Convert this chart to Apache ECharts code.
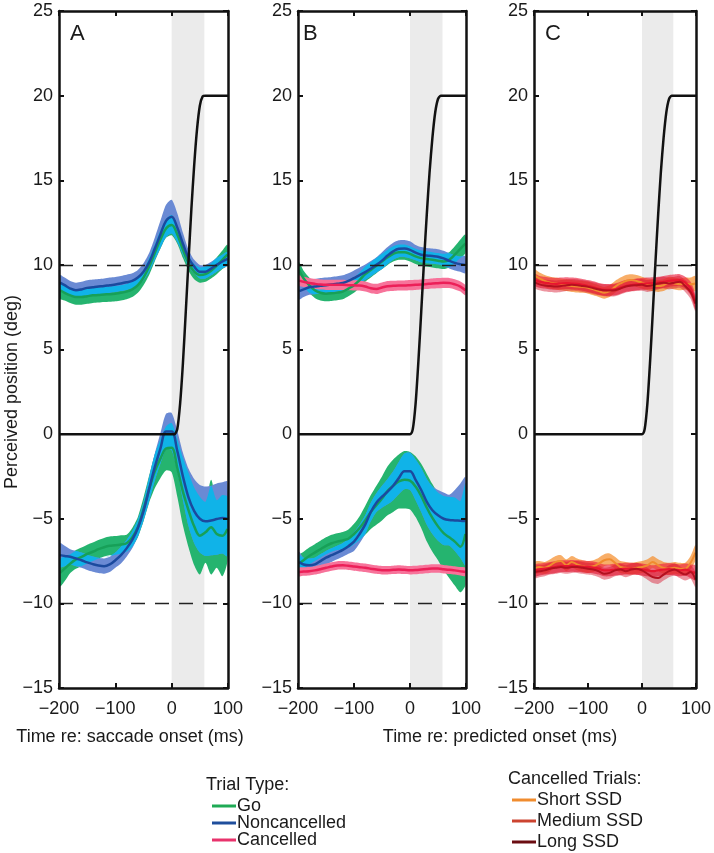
<!DOCTYPE html>
<html><head><meta charset="utf-8">
<script src="https://cdn.jsdelivr.net/npm/echarts@6/dist/echarts.min.js"></script>
<style>html,body{margin:0;padding:0;background:#fff}#c{width:714px;height:853px}</style>
</head><body><div id="c"></div>
<script>
// ---------- data ----------
const X = [-198,-190,-180,-170,-160,-150,-140,-130,-120,-110,-100,-90,-80,-70,-60,-50,-40,-30,-20,-10,0,10,20,30,40,50,60,70,80,90,99];
const xTicks = [-200,-100,0,100];
const yTicks = [-15,-10,-5,0,5,10,15,20,25];

// target position (black)
const targetX  = [-200,0,5,10,15,20,25,30,35,40,45,50,55,60,100];
const targetA  = [0,0,0,0.3,1.8,4.2,7.2,10.3,13.3,15.9,18,19.4,19.95,20,20];
const targetBC = [0,0,0.3,1.8,4.3,7.2,10.2,13,15.5,17.5,19,19.8,20,20,20];

// Panel A (re: saccade onset)
const goTopA     = [8.5,8.35,8.2,8.1,8.1,8.15,8.2,8.22,8.25,8.27,8.3,8.35,8.42,8.55,8.8,9.25,9.9,10.7,11.5,12.15,12.35,11.8,10.9,10.1,9.6,9.4,9.45,9.65,9.95,10.3,10.6];
const goTopErrA  = [0.5,0.45,0.45,0.45,0.45,0.45,0.45,0.45,0.45,0.45,0.45,0.45,0.45,0.45,0.45,0.45,0.5,0.5,0.55,0.55,0.6,0.55,0.5,0.45,0.45,0.45,0.45,0.45,0.5,0.55,0.6];
const ncTopA     = [8.95,8.8,8.6,8.5,8.55,8.64,8.68,8.72,8.75,8.8,8.84,8.9,8.97,9.05,9.25,9.6,10.15,10.95,11.8,12.6,12.85,12.2,11.25,10.4,9.9,9.6,9.6,9.78,10.0,10.2,10.35];
const ncTopErrA  = [0.45,0.45,0.45,0.45,0.45,0.45,0.45,0.45,0.45,0.45,0.45,0.45,0.45,0.45,0.45,0.5,0.55,0.65,0.8,0.95,1.0,0.85,0.65,0.5,0.4,0.4,0.4,0.4,0.4,0.4,0.4];
const goBotA     = [-8.2,-7.95,-7.65,-7.4,-7.25,-7.08,-6.95,-6.8,-6.68,-6.6,-6.57,-6.52,-6.45,-6.1,-5.5,-4.45,-3.25,-2.2,-1.45,-0.85,-0.8,-2.0,-3.4,-4.5,-5.45,-6.0,-5.8,-5.5,-5.9,-6.0,-5.6];
const goBotErrA  = [0.8,0.75,0.55,0.55,0.55,0.55,0.55,0.55,0.55,0.55,0.55,0.55,0.5,0.55,0.6,0.7,0.8,1.0,1.15,1.3,1.45,1.7,2.0,2.2,2.3,2.3,1.8,2.8,2.0,2.4,1.9];
const ncBotA     = [-7.15,-7.2,-7.25,-7.35,-7.45,-7.58,-7.68,-7.76,-7.8,-7.7,-7.45,-7.15,-6.75,-6.25,-5.55,-4.55,-3.25,-1.95,-0.85,0.15,0.15,-1.0,-2.5,-3.75,-4.55,-5.0,-5.15,-5.1,-5.02,-4.95,-5.0];
const ncBotErrA  = [0.7,0.6,0.45,0.45,0.45,0.45,0.45,0.45,0.45,0.45,0.45,0.5,0.5,0.5,0.5,0.55,0.7,0.8,0.9,1.05,1.1,1.2,1.4,1.7,1.9,2.0,2.05,2.05,2.1,2.1,2.2];

// Panel B (re: predicted onset)
const goTopB     = [9.7,9.2,8.8,8.5,8.35,8.3,8.32,8.36,8.42,8.6,8.8,9.1,9.45,9.7,9.95,10.2,10.45,10.65,10.75,10.75,10.65,10.5,10.4,10.35,10.3,10.25,10.2,10.3,10.6,10.95,11.25];
const goTopErrB  = [0.45,0.45,0.45,0.45,0.45,0.45,0.45,0.45,0.45,0.45,0.45,0.45,0.45,0.45,0.45,0.45,0.45,0.45,0.45,0.45,0.45,0.45,0.45,0.45,0.45,0.45,0.45,0.45,0.5,0.55,0.55];
const ncTopB     = [8.45,8.55,8.68,8.72,8.77,8.8,8.84,8.88,8.93,9.05,9.22,9.4,9.57,9.78,10.0,10.25,10.55,10.8,10.95,10.97,10.89,10.72,10.6,10.55,10.52,10.48,10.38,10.24,10.12,10.04,10.0];
const ncTopErrB  = [0.5,0.45,0.45,0.45,0.45,0.45,0.45,0.45,0.45,0.45,0.45,0.45,0.45,0.45,0.45,0.5,0.5,0.5,0.5,0.5,0.5,0.45,0.45,0.45,0.45,0.45,0.45,0.45,0.45,0.45,0.5];
const caTopB     = [9.07,9.0,8.93,8.88,8.84,8.82,8.82,8.82,8.82,8.8,8.79,8.78,8.72,8.62,8.58,8.66,8.74,8.76,8.78,8.78,8.8,8.82,8.84,8.87,8.9,8.92,8.94,8.93,8.85,8.72,8.5];
const caTopErrB  = [0.3,0.3,0.3,0.3,0.3,0.3,0.3,0.3,0.3,0.3,0.3,0.3,0.3,0.3,0.3,0.3,0.3,0.3,0.3,0.3,0.3,0.3,0.3,0.3,0.3,0.3,0.3,0.3,0.3,0.3,0.3];
const goBotB     = [-7.65,-7.45,-7.2,-7.0,-6.8,-6.6,-6.45,-6.35,-6.28,-6.18,-5.9,-5.55,-5.1,-4.6,-4.2,-3.8,-3.35,-3.05,-2.8,-2.7,-2.75,-3.1,-3.65,-4.35,-4.95,-5.45,-5.85,-6.1,-6.35,-6.65,-5.9];
const goBotErrB  = [0.5,0.5,0.5,0.5,0.5,0.5,0.5,0.5,0.5,0.55,0.6,0.7,0.85,1.0,1.15,1.3,1.45,1.55,1.6,1.7,1.7,1.8,1.9,2.0,2.0,2.0,2.2,2.4,2.6,2.7,3.0];
const ncBotB     = [-7.55,-7.7,-7.75,-7.7,-7.5,-7.3,-7.15,-7.0,-6.84,-6.62,-6.35,-5.9,-5.35,-4.6,-4.05,-3.7,-3.4,-3.05,-2.6,-2.2,-2.2,-2.7,-3.3,-4.0,-4.5,-4.8,-5.0,-5.08,-5.1,-5.12,-5.14];
const ncBotErrB  = [0.6,0.4,0.4,0.4,0.4,0.4,0.4,0.4,0.4,0.45,0.55,0.55,0.55,0.55,0.55,0.65,0.75,0.85,0.95,1.05,1.1,1.2,1.3,1.35,1.4,1.5,1.55,1.5,1.8,2.2,2.6];
const caBotB     = [-8.14,-8.12,-8.1,-8.05,-7.98,-7.9,-7.82,-7.76,-7.75,-7.78,-7.82,-7.86,-7.9,-7.95,-8.0,-8.04,-8.04,-8.02,-8.0,-8.02,-8.04,-8.03,-8.0,-7.97,-7.94,-7.94,-7.98,-8.02,-8.05,-8.1,-8.14];
const caBotErrB  = [0.25,0.25,0.25,0.25,0.25,0.25,0.25,0.25,0.25,0.25,0.25,0.25,0.25,0.25,0.25,0.25,0.25,0.25,0.25,0.25,0.25,0.25,0.25,0.25,0.25,0.25,0.25,0.25,0.25,0.25,0.25];

// Panel C (cancelled trials by SSD)
const shortTopC  = [9.35,9.2,9.05,8.95,8.9,8.85,8.8,8.75,8.72,8.7,8.65,8.55,8.45,8.35,8.45,8.7,8.9,9.05,9.1,9.05,8.95,8.85,8.8,8.75,8.8,8.95,8.9,8.85,8.9,8.85,8.9];
const medTopC    = [9.1,9.0,8.95,8.9,8.88,8.9,8.92,8.9,8.88,8.82,8.75,8.68,8.58,8.52,8.52,8.55,8.65,8.75,8.8,8.85,8.88,8.9,8.92,8.95,9.0,9.05,9.08,9.1,8.95,8.6,7.8];
const longTopC   = [8.95,8.85,8.78,8.75,8.72,8.75,8.8,8.82,8.8,8.75,8.7,8.62,8.55,8.5,8.48,8.5,8.6,8.72,8.78,8.8,8.82,8.75,8.8,8.9,8.95,8.9,8.95,9.0,8.75,8.4,7.7];
const shortBotC  = [-7.9,-7.85,-7.9,-7.75,-7.55,-7.5,-7.75,-7.55,-7.7,-7.8,-7.85,-7.8,-7.65,-7.45,-7.4,-7.6,-7.85,-7.9,-7.95,-7.9,-7.85,-7.75,-7.55,-7.75,-7.9,-7.95,-7.9,-7.95,-7.95,-7.6,-7.0];
const medBotC    = [-8.05,-8.0,-7.95,-7.9,-7.85,-7.8,-7.8,-7.78,-7.8,-7.82,-7.85,-7.88,-7.95,-8.05,-8.05,-8.0,-7.98,-7.95,-7.95,-7.97,-8.0,-8.05,-8.1,-8.05,-8.0,-7.98,-8.0,-8.05,-8.0,-8.1,-8.2];
const longBotC   = [-8.15,-8.1,-8.05,-7.95,-7.9,-7.85,-7.9,-7.85,-7.85,-7.9,-7.95,-8.0,-8.1,-8.25,-8.2,-8.05,-8.0,-8.1,-8.0,-7.95,-8.05,-8.25,-8.45,-8.5,-8.3,-8.1,-8.0,-8.15,-8.3,-8.15,-8.6];
const errC       = [0.35,0.35,0.35,0.35,0.35,0.35,0.35,0.35,0.35,0.35,0.35,0.35,0.35,0.35,0.35,0.35,0.35,0.35,0.35,0.35,0.35,0.35,0.35,0.35,0.35,0.35,0.35,0.35,0.35,0.4,0.45];

const saccadeWindow = [0, 58];
const refLines = [10, -10];

// ---------- chart ----------
const FONT = "'Liberation Sans', Arial, Helvetica, sans-serif";
const INK = '#1a1a1a';
const COL = {
  goBand:'#25b46f', ncBand:'#6a8ad4', overlap:'#10b3e8', goLine:'#17a058', ncLine:'#1b4a9e',
  caBand:'#f7739a', caLine:'#ec1f58',
  shortBand:'rgba(245,140,40,0.7)', medBand:'rgba(236,35,65,0.65)', longBand:'rgba(215,20,45,0.45)',
  shortLine:'#f08c2e', medLine:'#e8162f', longLine:'#b3101f'
};
const grids = [
  {left:59, top:11, width:169, height:677},
  {left:298, top:11, width:168, height:677},
  {left:534, top:11, width:169, height:677}
];
function minus(v){ return v < 0 ? '\u2212' + Math.abs(v) : String(v); }

const xAxes = [], yAxes = [];
grids.forEach((g, i) => {
  const line = {show:true, onZero:false, lineStyle:{color:'#111', width:2.5}};
  const tick = {show:true, inside:true, length:5, lineStyle:{color:'#111', width:2}};
  xAxes.push({type:'value', gridIndex:i, min:xTicks[0], max:xTicks[xTicks.length-1], interval:100, position:'bottom',
    axisLine:line, axisTick:tick, splitLine:{show:false},
    axisLabel:{fontSize:18, color:INK, fontFamily:FONT, margin:12, formatter:minus}, z:10});
  xAxes.push({type:'value', gridIndex:i, min:xTicks[0], max:xTicks[xTicks.length-1], interval:100, position:'top',
    axisLine:line, axisTick:tick, splitLine:{show:false}, axisLabel:{show:false}, z:10});
  yAxes.push({type:'value', gridIndex:i, min:yTicks[0], max:yTicks[yTicks.length-1], interval:5, position:'left',
    axisLine:line, axisTick:tick, splitLine:{show:false},
    axisLabel:{fontSize:18, color:INK, fontFamily:FONT, margin:6, formatter:minus}, z:10});
  yAxes.push({type:'value', gridIndex:i, min:yTicks[0], max:yTicks[yTicks.length-1], interval:5, position:'right',
    axisLine:line, axisTick:tick, splitLine:{show:false}, axisLabel:{show:false}, z:10});
});

function polySeries(p, lo, hi, color){
  return {type:'custom', xAxisIndex:2*p, yAxisIndex:2*p, silent:true, animation:false,
    data: X.map((x,i)=>[x, lo[i], hi[i]]),
    encode:{x:0, y:[1,2]},
    renderItem: function(params, api){
      if (params.dataIndex !== 0) return null;
      const pts = [];
      for (let i=0;i<X.length;i++) pts.push(api.coord([X[i], hi[i]]));
      for (let i=X.length-1;i>=0;i--) pts.push(api.coord([X[i], lo[i]]));
      return {type:'polygon', shape:{points:pts, smooth:0.25}, style:{fill:color}};
    }};
}
function band(p, mean, err, color){
  return polySeries(p, mean.map((m,i)=>m-err[i]), mean.map((m,i)=>m+err[i]), color);
}
function overlap(p, m1, e1, m2, e2, color){
  const lo = [], hi = [];
  for (let i=0;i<X.length;i++){
    let l = Math.max(m1[i]-e1[i], m2[i]-e2[i]);
    let h = Math.min(m1[i]+e1[i], m2[i]+e2[i]);
    if (h < l){ const c=(l+h)/2; l=c; h=c; }
    lo.push(l); hi.push(h);
  }
  return polySeries(p, lo, hi, color);
}
function curve(p, name, ys, color, width){
  return {type:'line', name:name, xAxisIndex:2*p, yAxisIndex:2*p, data:X.map((x,i)=>[x, ys[i]]),
    showSymbol:false, symbol:'none', smooth:0.35, silent:true, animation:false,
    lineStyle:{color:color, width:width||2.5}, itemStyle:{color:color}};
}
function target(p, ys){
  return {type:'line', name:'Target', xAxisIndex:2*p, yAxisIndex:2*p, data:targetX.map((x,i)=>[x, ys[i]]),
    showSymbol:false, symbol:'none', smooth:0.25, silent:true, animation:false,
    lineStyle:{color:'#111', width:2.5}, itemStyle:{color:'#111'}};
}
function backdrop(p){
  return {type:'line', name:'bg'+p, xAxisIndex:2*p, yAxisIndex:2*p, data:[[xTicks[0],0],[xTicks[3],0]],
    showSymbol:false, symbol:'none', silent:true, animation:false, z:1, lineStyle:{opacity:0},
    markArea:{silent:true, itemStyle:{color:'#ebebeb'}, data:[[{xAxis:saccadeWindow[0]},{xAxis:saccadeWindow[1]}]]},
    markLine:{silent:true, symbol:'none', label:{show:false}, animation:false,
      lineStyle:{color:'#222', width:1.4, type:[14,10]}, data:refLines.map(v=>({yAxis:v}))}};
}

const series = [
  backdrop(0), backdrop(1), backdrop(2),
  // Panel A
  band(0, goTopA, goTopErrA, COL.goBand), band(0, ncTopA, ncTopErrA, COL.ncBand),
  overlap(0, goTopA, goTopErrA, ncTopA, ncTopErrA, COL.overlap),
  band(0, goBotA, goBotErrA, COL.goBand), band(0, ncBotA, ncBotErrA, COL.ncBand),
  overlap(0, goBotA, goBotErrA, ncBotA, ncBotErrA, COL.overlap),
  curve(0, 'Go', goTopA, COL.goLine), curve(0, 'Go', goBotA, COL.goLine),
  curve(0, 'Noncancelled', ncTopA, COL.ncLine), curve(0, 'Noncancelled', ncBotA, COL.ncLine),
  target(0, targetA),
  // Panel B
  band(1, goTopB, goTopErrB, COL.goBand), band(1, ncTopB, ncTopErrB, COL.ncBand),
  overlap(1, goTopB, goTopErrB, ncTopB, ncTopErrB, COL.overlap),
  band(1, goBotB, goBotErrB, COL.goBand), band(1, ncBotB, ncBotErrB, COL.ncBand),
  overlap(1, goBotB, goBotErrB, ncBotB, ncBotErrB, COL.overlap),
  band(1, caTopB, caTopErrB, COL.caBand), band(1, caBotB, caBotErrB, COL.caBand),
  curve(1, 'Go', goTopB, COL.goLine), curve(1, 'Go', goBotB, COL.goLine),
  curve(1, 'Noncancelled', ncTopB, COL.ncLine), curve(1, 'Noncancelled', ncBotB, COL.ncLine),
  curve(1, 'Cancelled', caTopB, COL.caLine), curve(1, 'Cancelled', caBotB, COL.caLine),
  target(1, targetBC),
  // Panel C
  band(2, shortTopC, errC, COL.shortBand), band(2, shortBotC, errC, COL.shortBand),
  band(2, medTopC, errC, COL.medBand), band(2, medBotC, errC, COL.medBand),
  band(2, longTopC, errC, COL.longBand), band(2, longBotC, errC, COL.longBand),
  curve(2, 'Short SSD', shortTopC, COL.shortLine, 2), curve(2, 'Short SSD', shortBotC, COL.shortLine, 2),
  curve(2, 'Medium SSD', medTopC, COL.medLine, 2.2), curve(2, 'Medium SSD', medBotC, COL.medLine, 2.2),
  curve(2, 'Long SSD', longTopC, COL.longLine, 2), curve(2, 'Long SSD', longBotC, COL.longLine, 2),
  target(2, targetBC)
];

const option = {
  animation:false,
  backgroundColor:'#fff',
  grid: grids,
  xAxis: xAxes,
  yAxis: yAxes,
  legend: [
    {orient:'vertical', left:212, top:797, padding:0, itemGap:-1, icon:'rect', itemWidth:24, itemHeight:3,
     selectedMode:false, textStyle:{fontSize:18, color:INK, fontFamily:FONT, lineHeight:17, padding:[0,0,0,-4]},
     data:[{name:'Go', itemStyle:{color:'#1faa55'}}, {name:'Noncancelled', itemStyle:{color:'#1f4e9c'}}, {name:'Cancelled', itemStyle:{color:'#e8336c'}}]},
    {orient:'vertical', left:512, top:791, padding:0, itemGap:3, icon:'rect', itemWidth:24, itemHeight:3,
     selectedMode:false, textStyle:{fontSize:18, color:INK, fontFamily:FONT, lineHeight:17, padding:[0,0,0,-4]},
     data:[{name:'Short SSD', itemStyle:{color:'#f08c2e'}}, {name:'Medium SSD', itemStyle:{color:'#cc4430'}}, {name:'Long SSD', itemStyle:{color:'#6b0d12'}}]}
  ],
  graphic: [
    {type:'text', x:70, y:34, style:{text:'A', fontSize:22, fontFamily:FONT, fill:INK, textAlign:'left', textVerticalAlign:'middle'}},
    {type:'text', x:303, y:34, style:{text:'B', fontSize:22, fontFamily:FONT, fill:INK, textAlign:'left', textVerticalAlign:'middle'}},
    {type:'text', x:545, y:34, style:{text:'C', fontSize:22, fontFamily:FONT, fill:INK, textAlign:'left', textVerticalAlign:'middle'}},
    {type:'text', x:12, y:392, rotation:Math.PI/2, style:{text:'Perceived position (deg)', fontSize:18, fontFamily:FONT, fill:INK, textAlign:'center', textVerticalAlign:'middle'}},
    {type:'text', x:130, y:737, style:{text:'Time re: saccade onset (ms)', fontSize:18, fontFamily:FONT, fill:INK, textAlign:'center', textVerticalAlign:'middle'}},
    {type:'text', x:500, y:737, style:{text:'Time re: predicted onset (ms)', fontSize:18, fontFamily:FONT, fill:INK, textAlign:'center', textVerticalAlign:'middle'}},
    {type:'text', x:206, y:785, style:{text:'Trial Type:', fontSize:18, fontFamily:FONT, fill:INK, textAlign:'left', textVerticalAlign:'middle'}},
    {type:'text', x:508, y:779, style:{text:'Cancelled Trials:', fontSize:18, fontFamily:FONT, fill:INK, textAlign:'left', textVerticalAlign:'middle'}}
  ],
  series: series
};
const chart = echarts.init(document.getElementById('c'));
chart.setOption(option);
</script>
</body></html>
